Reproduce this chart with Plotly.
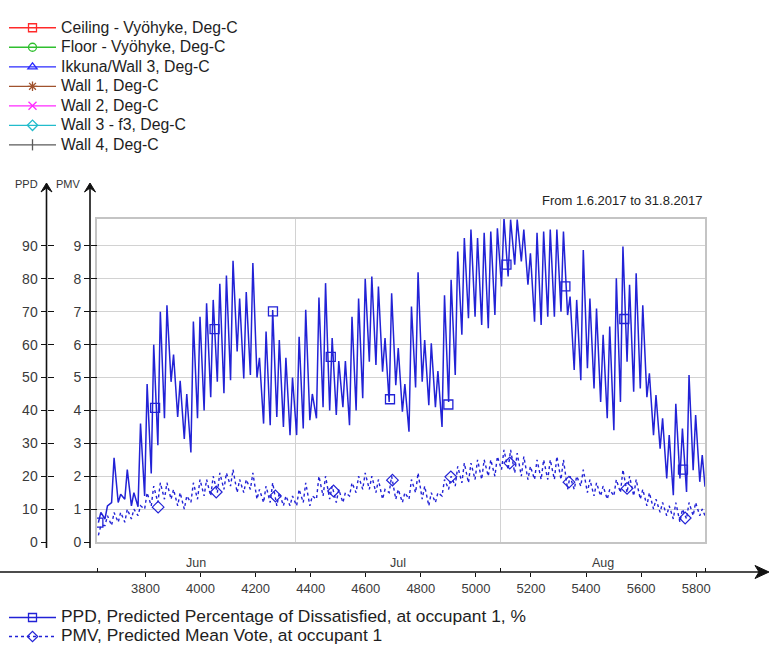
import plotly.graph_objects as go

# ---------------------------------------------------------------------------
# Data: hourly simulation, 1.6.2017 - 31.8.2017 (hour-of-year 3624 ... 5832)
# Daily low (early morning) and daily high (afternoon) values per day.
# ---------------------------------------------------------------------------
START_HOUR = 3624
END_HOUR = 5832
LOW_HOUR = 5      # hour of day of the daily low
HIGH_HOUR = 14    # hour of day of the daily high

ppd_day_min = [
    5.9, 7, 12, 12, 13, 11, 10.7, 14, 20.8, 29.4,
    37.6, 48.7, 38, 31.3, 27.2, 37.6, 40, 44, 48.7, 45.2,
    49.2, 57.9, 49.7, 50.8, 50, 36, 35.5, 38, 35, 32.5,
    32.5, 34.5, 37, 37.6, 41, 40, 38.6, 41, 35.5, 40,
    43.7, 54.8, 53.8, 51.8, 42.6, 47.7, 39.6, 33.5, 47, 48.7,
    41.6, 41, 35, 42.6, 50.8, 63, 68, 68.5, 66, 65,
    69, 77.7, 80.7, 84.3, 85.3, 78.2, 67, 66, 68.5, 68.5,
    70, 69, 52.3, 49.2, 52.8, 46.7, 42.6, 37.6, 34, 42.6,
    54.8, 45.7, 46.7, 44, 32.5, 28.4, 19.3, 14.2, 19.3, 15.2,
    21.8, 18.3,
]
ppd_day_max = [
    9, 11, 25.6, 14.5, 22, 15, 36, 48, 60, 70,
    72, 57, 49, 45, 67, 68.5, 72.6, 73.6, 78.5, 81,
    85.5, 74, 76, 84.8, 56, 64, 70.5, 61.4, 56, 50,
    62.4, 70.6, 45, 74.3, 78.7, 62, 55, 55, 68.5, 74,
    80, 80.7, 77.7, 62, 75.6, 59, 48, 71.6, 82, 61.4,
    60.4, 52, 75, 79.7, 88.3, 92.4, 95, 92.4, 94, 94.4,
    95.4, 98.5, 98, 98, 95, 87.8, 94, 94.4, 95, 95,
    94.4, 74.6, 73.6, 88.8, 74, 71, 63, 65.5, 80.2, 89.8,
    78.2, 81.7, 72, 51.3, 44.7, 37.6, 32.5, 42, 34.5, 50.8,
    38.6, 26.4,
]
ppd_last = 16.8

pmv_day_min = [
    0.2, 0.5, 0.5, 0.6, 0.6, 0.7, 0.8, 1.0, 1.1, 1.2,
    1.3, 1.3, 1.1, 1.0, 1.2, 1.3, 1.4, 1.4, 1.5, 1.6,
    1.7, 1.5, 1.5, 1.6, 1.3, 1.2, 1.2, 1.1, 1.1, 1.1,
    1.1, 1.2, 1.1, 1.3, 1.4, 1.3, 1.2, 1.2, 1.4, 1.5,
    1.6, 1.6, 1.5, 1.3, 1.5, 1.3, 1.2, 1.3, 1.5, 1.3,
    1.1, 1.2, 1.4, 1.6, 1.7, 1.8, 1.8, 1.9, 1.9, 2.0,
    2.0, 2.2, 2.2, 2.1, 2.0, 1.9, 1.9, 1.9, 1.9, 1.9,
    1.9, 1.6, 1.6, 1.7, 1.5, 1.4, 1.4, 1.3, 1.4, 1.5,
    1.5, 1.4, 1.3, 1.1, 1.0, 0.9, 0.8, 0.7, 0.6, 0.7,
    0.8, 0.8,
]
pmv_day_max = [
    0.5, 0.8, 0.9, 0.9, 1.0, 1.0, 1.1, 1.5, 1.7, 1.8,
    1.8, 1.6, 1.5, 1.4, 1.8, 1.9, 1.9, 2.0, 2.1, 2.1,
    2.2, 1.9, 1.9, 2.1, 1.6, 1.7, 1.8, 1.5, 1.4, 1.4,
    1.6, 1.8, 1.4, 2.0, 2.0, 1.7, 1.6, 1.5, 1.8, 2.0,
    2.1, 2.0, 1.9, 1.6, 2.0, 1.6, 1.5, 1.9, 2.1, 1.7,
    1.5, 1.5, 1.9, 2.0, 2.3, 2.4, 2.4, 2.5, 2.5, 2.5,
    2.6, 2.8, 2.8, 2.7, 2.6, 2.3, 2.5, 2.5, 2.5, 2.6,
    2.5, 2.0, 2.0, 2.2, 1.9, 1.8, 1.7, 1.6, 1.9, 2.2,
    2.0, 1.9, 1.6, 1.5, 1.3, 1.2, 1.1, 1.2, 1.0, 1.2,
    1.2, 1.0,
]
pmv_last = 0.8

# Series symbols drawn every ~213 h along the curves
ppd_marker_hours = [3629, 3835, 4051, 4263, 4473, 4688, 4900, 5111, 5325, 5539, 5752]
ppd_marker_values = [5.9, 40.8, 64.7, 70.1, 56.3, 43.4, 41.8, 84.3, 77.7, 67.8, 22.0]
pmv_marker_hours = [3846, 4057, 4272, 4483, 4697, 4909, 5123, 5338, 5549, 5760]
pmv_marker_values = [1.06, 1.52, 1.40, 1.55, 1.88, 1.98, 2.40, 1.82, 1.63, 0.73]

# Axis ticks / labels
ppd_ticks = [0, 10, 20, 30, 40, 50, 60, 70, 80, 90]
pmv_ticks = [0, 1, 2, 3, 4, 5, 6, 7, 8, 9]
hour_ticks = [3800, 4000, 4200, 4400, 4600, 4800, 5000, 5200, 5400, 5600, 5800]
month_bounds = [3624, 4344, 5088, 5832]
month_names = ["Jun", "Jul", "Aug"]
month_centers = [3984, 4716, 5460]

surface_names = [
    "Ceiling - Vyöhyke, Deg-C",
    "Floor - Vyöhyke, Deg-C",
    "Ikkuna/Wall 3, Deg-C",
    "Wall 1, Deg-C",
    "Wall 2, Deg-C",
    "Wall 3 - f3, Deg-C",
    "Wall 4, Deg-C",
]
surface_colors = ["#ff2a2a", "#2fbf2f", "#2a2aff", "#a0522d", "#ff2aff", "#22bccc", "#5a5a5a"]
surface_symbols = ["square-open", "circle-open", "triangle-up-open", "asterisk-open",
                   "x-thin-open", "diamond-open", "line-ns-open"]

PPD_MAX = 98.2
PMV_MAX = PPD_MAX / 10

W, H = 772, 656
FONT = "Liberation Sans, Arial, sans-serif"
BLUE = "#2222d6"


def fx(px):
    return px / W


def fy(py):
    return 1 - py / H


def daily_series(day_min, day_max, last_value):
    xs, ys = [], []
    for d, (lo, hi) in enumerate(zip(day_min, day_max)):
        xs += [START_HOUR + 24 * d + LOW_HOUR, START_HOUR + 24 * d + HIGH_HOUR]
        ys += [lo, hi]
    xs.append(END_HOUR)
    ys.append(last_value)
    return xs, ys


ppd_x, ppd_y = daily_series(ppd_day_min, ppd_day_max, ppd_last)
pmv_x, pmv_y = daily_series(pmv_day_min, pmv_day_max, pmv_last)

fig = go.Figure()

# --- curves --------------------------------------------------------------
fig.add_trace(go.Scatter(x=ppd_x, y=ppd_y, mode="lines", xaxis="x", yaxis="y",
                         line=dict(color=BLUE, width=1.5), showlegend=False,
                         hoverinfo="skip"))
fig.add_trace(go.Scatter(x=ppd_marker_hours, y=ppd_marker_values, mode="markers",
                         xaxis="x", yaxis="y", showlegend=False, hoverinfo="skip",
                         marker=dict(symbol="square-open", size=9,
                                     color=BLUE, line=dict(width=1.3, color=BLUE))))
fig.add_trace(go.Scatter(x=pmv_x, y=pmv_y, mode="lines", xaxis="x", yaxis="y4",
                         line=dict(color=BLUE, width=1.4, dash="3px,3px"),
                         showlegend=False, hoverinfo="skip"))
fig.add_trace(go.Scatter(x=pmv_marker_hours, y=pmv_marker_values, mode="markers",
                         xaxis="x", yaxis="y4", showlegend=False, hoverinfo="skip",
                         marker=dict(symbol="diamond-open", size=9,
                                     color=BLUE, line=dict(width=1.2, color=BLUE))))

# --- surface temperature series (legend entries) -------------------------
for name, col, sym in zip(surface_names, surface_colors, surface_symbols):
    fig.add_trace(go.Scatter(
        x=[None], y=[None], mode="lines+markers", legend="legend",
        name=f"<span style='font-size:15.8px'>{name}</span>",
        line=dict(color=col, width=1.3),
        marker=dict(symbol=sym, size=8, color=col, line=dict(width=1.3, color=col)),
    ))

# --- comfort series (legend entries) -------------------------------------
fig.add_trace(go.Scatter(
    x=[None], y=[None], mode="lines+markers", legend="legend2",
    name="<span style='font-size:17.4px'>PPD, Predicted Percentage of Dissatisfied, at occupant 1, %</span>",
    line=dict(color=BLUE, width=1.3),
    marker=dict(symbol="square-open", size=8, color=BLUE, line=dict(width=1.3, color=BLUE)),
))
fig.add_trace(go.Scatter(
    x=[None], y=[None], mode="lines+markers", legend="legend2",
    name="<span style='font-size:17.4px'>PMV, Predicted Mean Vote, at occupant 1</span>",
    line=dict(color=BLUE, width=1.3, dash="3px,3px"),
    marker=dict(symbol="diamond-open", size=8, color=BLUE, line=dict(width=1.2, color=BLUE)),
))

x_dom = [fx(97), fx(705)]
y_dom = [fy(542), fy(219)]
x_range = [START_HOUR, END_HOUR]
x_axis_pos = fy(572)

tick_font = dict(family=FONT, size=13, color="#3a3a3a")

# --- shapes: axis lines with arrow heads ---------------------------------
shapes = []
for ax_px in (46.5, 90):
    shapes.append(dict(type="line", xref="paper", yref="paper",
                       x0=fx(ax_px), x1=fx(ax_px), y0=fy(548), y1=fy(186),
                       line=dict(color="#111111", width=1.6)))
    tip = 183
    shapes.append(dict(type="path", xref="paper", yref="paper",
                       path=(f"M {fx(ax_px - 5.5)},{fy(tip + 9)} L {fx(ax_px)},{fy(tip)} "
                             f"L {fx(ax_px + 5.5)},{fy(tip + 9)} L {fx(ax_px)},{fy(tip + 5)} Z"),
                       fillcolor="#111111", line=dict(color="#111111", width=1)))
shapes.append(dict(type="line", xref="paper", yref="paper",
                   x0=0, x1=fx(762), y0=x_axis_pos, y1=x_axis_pos,
                   line=dict(color="#111111", width=1.6)))
shapes.append(dict(type="path", xref="paper", yref="paper",
                   path=(f"M {fx(755)},{fy(565.5)} L {fx(769)},{fy(572)} "
                         f"L {fx(755)},{fy(578.5)} L {fx(759)},{fy(572)} Z"),
                   fillcolor="#111111", line=dict(color="#111111", width=1)))

# --- annotations ---------------------------------------------------------
annotations = [
    dict(text="PPD", xref="paper", yref="paper", x=fx(40), y=fy(184),
         xanchor="right", yanchor="middle", showarrow=False,
         font=dict(family=FONT, size=11, color="#333333")),
    dict(text="PMV", xref="paper", yref="paper", x=fx(83), y=fy(184),
         xanchor="right", yanchor="middle", showarrow=False,
         font=dict(family=FONT, size=11, color="#333333")),
    dict(text="From 1.6.2017 to 31.8.2017", xref="paper", yref="paper",
         x=fx(704), y=fy(200), xanchor="right", yanchor="middle", showarrow=False,
         font=dict(family=FONT, size=13, color="#222222")),
]
for name, c in zip(month_names, month_centers):
    annotations.append(dict(text=name, xref="x", yref="paper", x=c, y=fy(563),
                            xanchor="center", yanchor="middle", showarrow=False,
                            font=dict(family=FONT, size=12.5, color="#3a3a3a")))

fig.update_layout(
    width=W, height=H,
    margin=dict(l=0, r=0, t=0, b=0, autoexpand=False),
    paper_bgcolor="white", plot_bgcolor="white",
    font=dict(family=FONT),
    shapes=shapes,
    annotations=annotations,
    xaxis=dict(domain=x_dom, range=x_range, anchor="y", tickvals=month_bounds[1:3],
               showticklabels=False, ticks="", showgrid=True, gridcolor="#d2d2d2",
               gridwidth=1.3, showline=True, mirror=True, linecolor="#c4c4c4",
               linewidth=1.6, zeroline=False, fixedrange=True),
    yaxis=dict(domain=y_dom, range=[0, PPD_MAX], anchor="x", tickvals=ppd_ticks,
               showticklabels=False, ticks="", showgrid=True, gridcolor="#d2d2d2",
               gridwidth=1.3, showline=True, mirror=True, linecolor="#c4c4c4",
               linewidth=1.6, zeroline=False, fixedrange=True),
    # hour-of-year axis below the plot
    xaxis2=dict(overlaying="x", range=x_range, anchor="free", position=x_axis_pos,
                tickvals=hour_ticks, ticks="outside", ticklen=4, tickwidth=1.4,
                tickcolor="#111111", showline=False, showgrid=False, zeroline=False,
                tickfont=tick_font),
    # month boundary ticks on the same axis line
    xaxis3=dict(overlaying="x", range=x_range, anchor="free", position=x_axis_pos,
                side="top", tickvals=month_bounds, ticks="outside", ticklen=4,
                tickwidth=1.4, tickcolor="#111111", showticklabels=False,
                showline=False, showgrid=False, zeroline=False),
    # PPD scale
    yaxis2=dict(overlaying="y", range=[0, PPD_MAX], anchor="free", position=fx(46.5),
                side="left", tickvals=ppd_ticks, ticks="outside", ticklen=6,
                tickwidth=1.4, tickcolor="#111111", showline=False, showgrid=False,
                zeroline=False, tickfont=dict(family=FONT, size=14, color="#3a3a3a")),
    yaxis3=dict(overlaying="y", range=[0, PPD_MAX], anchor="free", position=fx(46.5),
                side="left", tickvals=ppd_ticks, ticks="inside", ticklen=6,
                tickwidth=1.4, tickcolor="#111111", showticklabels=False,
                showline=False, showgrid=False, zeroline=False),
    # PMV scale
    yaxis4=dict(overlaying="y", range=[0, PMV_MAX], anchor="free", position=fx(90),
                side="left", tickvals=pmv_ticks, ticks="outside", ticklen=6,
                tickwidth=1.4, tickcolor="#111111", showline=False, showgrid=False,
                zeroline=False, tickfont=dict(family=FONT, size=14, color="#3a3a3a")),
    yaxis5=dict(overlaying="y", range=[0, PMV_MAX], anchor="free", position=fx(90),
                side="left", tickvals=pmv_ticks, ticks="inside", ticklen=6,
                tickwidth=1.4, tickcolor="#111111", showticklabels=False,
                showline=False, showgrid=False, zeroline=False),
    legend=dict(x=fx(4), y=fy(13), xanchor="left", yanchor="top",
                font=dict(family=FONT, size=12.7, color="#1e1e1e"),
                bgcolor="rgba(0,0,0,0)", itemwidth=47, tracegroupgap=0),
    legend2=dict(x=fx(4), y=fy(603), xanchor="left", yanchor="top",
                 font=dict(family=FONT, size=12.3, color="#1e1e1e"),
                 bgcolor="rgba(0,0,0,0)", itemwidth=47, tracegroupgap=0),
    hovermode=False,
)

# empty traces so the helper axes are instantiated
fig.add_trace(go.Scatter(x=[None], y=[None], xaxis="x2", yaxis="y2", showlegend=False))
fig.add_trace(go.Scatter(x=[None], y=[None], xaxis="x3", yaxis="y3", showlegend=False))
fig.add_trace(go.Scatter(x=[None], y=[None], xaxis="x", yaxis="y5", showlegend=False))

fig.write_html("out.html")
